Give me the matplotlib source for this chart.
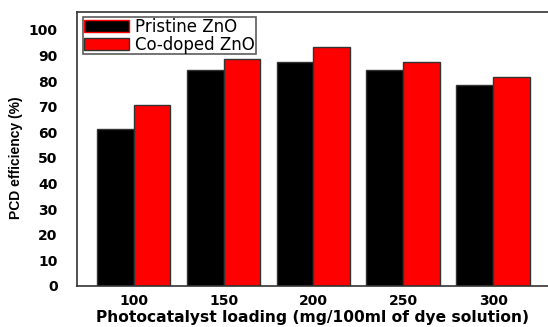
import matplotlib
matplotlib.use("Agg")
import matplotlib.pyplot as plt
import numpy as np

loadings = ["100", "150", "200", "250", "300"]
pristine = [61.5, 84.5, 87.5, 84.5, 78.5]
codoped = [70.5, 88.5, 93.5, 87.5, 81.5]

plt.rcParams["font.family"] = ["DejaVu Sans"]

fig = plt.figure(figsize=(5.48, 3.27), dpi=100)
ax = fig.add_axes([0.1405, 0.1254, 0.8595, 0.8379])

x = np.arange(len(loadings))
w = 0.41
ax.bar(x - w / 2, pristine, w, color="black", edgecolor="#333333", linewidth=1,
       label="Pristine ZnO")
ax.bar(x + w / 2, codoped, w, color="red", edgecolor="#333333", linewidth=1,
       label="Co-doped ZnO")

ax.set_xlim(-0.63, 4.61)
ax.set_ylim(0, 107)
ax.set_yticks(range(0, 101, 10))
ax.set_xticks(x)
ax.set_xticklabels(loadings)
ax.tick_params(length=0, labelsize=10, pad=14)
ax.tick_params(axis="x", pad=6)
for lab in ax.get_xticklabels() + ax.get_yticklabels():
    lab.set_fontweight("bold")
for s in ["left", "bottom", "top"]:
    ax.spines[s].set_color("#333333")
    ax.spines[s].set_linewidth(1.2)
ax.spines["right"].set_visible(False)

ax.set_ylabel("PCD efficiency (%)", fontsize=10, fontweight="bold", labelpad=10,
              family="Liberation Sans")
ax.yaxis.set_label_coords(-0.115, 0.47)
ax.set_xlabel("Photocatalyst loading (mg/100ml of dye solution)", fontsize=11.2,
              fontweight="bold", labelpad=1)

leg = ax.legend(loc="upper left", bbox_to_anchor=(0.005, 0.995), fontsize=12,
                frameon=True, fancybox=False, edgecolor="#333333",
                handlelength=2.7, handleheight=0.75, borderpad=0.05,
                labelspacing=0.0, handletextpad=0.4, borderaxespad=0.2)
leg.get_frame().set_linewidth(1.2)
leg.legend_handles[0].set_edgecolor("red")

fig.savefig("out.png", dpi=100)
